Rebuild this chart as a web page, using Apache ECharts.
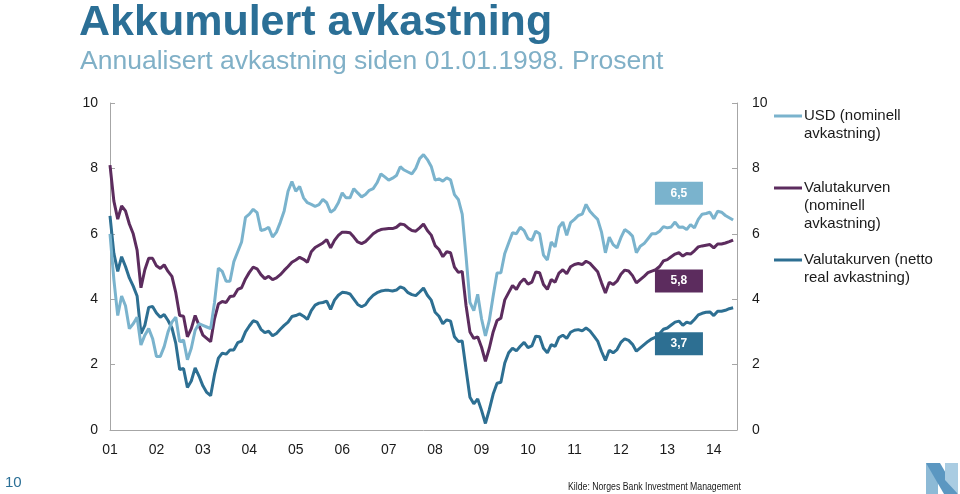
<!DOCTYPE html>
<html>
<head>
<meta charset="utf-8">
<script src="https://cdn.jsdelivr.net/npm/echarts@6/dist/echarts.min.js"></script>
<style>
html,body{margin:0;padding:0;background:#fff;}
#c{width:960px;height:494px;}
</style>
</head>
<body>
<div id="c"></div>
<script>
// ---- data (monthly, Jan 2001 - Jun 2014) ----
const seriesNames = ['USD (nominell\navkastning)', 'Valutakurven\n(nominell\navkastning)', 'Valutakurven (netto\nreal avkastning)'];
const endLabels = ['6,5', '5,8', '3,7'];
const endLabelValues = [7.24, 4.56, 2.64];
const yTicks = [0, 2, 4, 6, 8, 10];

const usd = [6.0,4.6,3.5,4.1,3.8,3.1,3.25,3.45,2.6,2.9,3.1,2.8,
2.25,2.25,2.55,3.0,3.3,3.45,2.7,2.75,2.15,2.5,3.05,3.25,
3.2,3.15,3.1,3.9,4.95,4.85,4.55,4.55,5.15,5.45,5.75,6.5,
6.6,6.75,6.65,6.1,6.13,6.2,5.9,6.05,6.35,6.7,7.3,7.6,
7.3,7.45,7.1,6.95,6.9,6.84,6.89,7.05,6.95,6.66,6.74,6.95,
7.25,7.1,7.1,7.38,7.25,7.13,7.2,7.33,7.38,7.56,7.83,7.74,
7.64,7.7,7.78,8.05,7.95,7.89,7.83,8.0,8.3,8.42,8.27,8.06,
7.64,7.68,7.61,7.71,7.65,7.2,7.05,6.6,5.3,3.9,3.65,4.15,
3.4,2.88,3.35,4.1,4.8,4.81,5.4,5.72,6.03,6.0,6.2,6.1,
5.85,5.8,6.08,6.0,5.35,5.2,5.75,5.6,6.2,6.36,5.95,6.34,
6.44,6.56,6.6,6.9,6.69,6.56,6.44,6.05,5.42,5.9,5.67,5.57,
5.88,6.13,6.05,5.93,5.42,5.62,5.7,5.85,6.0,6.0,6.08,6.22,
6.18,6.21,6.36,6.2,6.21,6.13,6.28,6.18,6.44,6.6,6.62,6.66,
6.46,6.69,6.66,6.56,6.49,6.42];

const nominal = [8.1,7.0,6.45,6.85,6.7,6.3,6.0,5.5,4.35,4.9,5.25,5.25,
5.02,4.94,5.05,4.85,4.7,4.2,3.5,3.48,2.85,3.1,3.5,3.2,
2.9,2.8,2.7,3.4,3.85,3.93,3.9,4.08,4.1,4.3,4.35,4.62,
4.82,4.98,4.93,4.75,4.63,4.7,4.6,4.65,4.75,4.88,5.0,5.13,
5.2,5.28,5.22,5.13,5.45,5.58,5.65,5.72,5.82,5.57,5.8,5.95,
6.05,6.05,6.03,5.9,5.75,5.7,5.76,5.88,6.0,6.08,6.13,6.15,
6.16,6.16,6.2,6.3,6.28,6.18,6.1,6.08,6.18,6.3,6.1,5.96,
5.64,5.52,5.3,5.45,5.42,4.98,4.82,4.85,3.8,3.0,2.8,2.85,
2.53,2.1,2.5,3.0,3.35,3.42,3.98,4.2,4.42,4.3,4.51,4.62,
4.46,4.52,4.83,4.81,4.45,4.3,4.6,4.52,4.8,4.9,4.78,4.99,
5.06,5.09,5.06,5.16,5.1,4.97,4.84,4.5,4.19,4.52,4.45,4.55,
4.76,4.89,4.86,4.72,4.5,4.6,4.7,4.81,4.86,4.9,5.0,5.17,
5.21,5.3,5.38,5.42,5.32,5.4,5.38,5.48,5.6,5.63,5.65,5.67,
5.57,5.69,5.69,5.72,5.76,5.81];

const netReal = [6.55,5.4,4.85,5.3,5.0,4.65,4.4,4.1,2.95,3.2,3.75,3.78,
3.58,3.45,3.53,3.35,3.12,2.65,1.85,1.88,1.3,1.5,1.9,1.65,
1.35,1.15,1.05,1.7,2.2,2.35,2.32,2.45,2.45,2.67,2.72,3.0,
3.18,3.34,3.3,3.08,2.98,3.02,2.88,2.95,3.08,3.2,3.3,3.47,
3.5,3.55,3.48,3.38,3.65,3.82,3.88,3.9,3.94,3.69,3.97,4.12,
4.21,4.2,4.16,4.0,3.84,3.77,3.83,4.0,4.12,4.2,4.25,4.27,
4.27,4.25,4.28,4.38,4.33,4.2,4.14,4.11,4.22,4.34,4.12,3.97,
3.6,3.48,3.25,3.37,3.33,2.85,2.71,2.72,1.85,1.0,0.8,0.95,
0.6,0.2,0.62,1.1,1.43,1.46,2.05,2.36,2.5,2.42,2.56,2.68,
2.52,2.57,2.87,2.85,2.5,2.36,2.61,2.56,2.83,2.9,2.8,2.99,
3.05,3.07,3.03,3.12,3.03,2.88,2.72,2.4,2.13,2.44,2.36,2.46,
2.68,2.79,2.74,2.62,2.41,2.51,2.61,2.71,2.79,2.84,2.95,3.08,
3.12,3.21,3.3,3.33,3.2,3.3,3.26,3.38,3.52,3.57,3.6,3.61,
3.5,3.63,3.63,3.66,3.71,3.74];

// categories: months Jan 2001 .. Jul 2014 (last one empty, axis end)
const categories = [];
for (let y = 2001; y <= 2014; y++) {
  for (let m = 1; m <= 12; m++) {
    if (y === 2014 && m > 7) break;
    categories.push(y + '-' + (m < 10 ? '0' + m : m));
  }
}

const colors = ['#7AB3CD', '#5C2C5E', '#2D6F92'];
const seriesData = [usd, nominal, netReal];
const labelIndex = 146.5;

const chart = echarts.init(document.getElementById('c'));
const textColor = '#1a1a1a';
const axisGray = '#A6A6A6';

const series = seriesData.map((d, k) => ({
  name: seriesNames[k],
  type: 'line',
  data: d,
  showSymbol: false,
  symbol: 'none',
  lineStyle: { width: 3, color: colors[k] },
  itemStyle: { color: colors[k] },
  z: 2 + (2 - k),
  markPoint: {
    symbol: 'rect',
    symbolSize: [48, 23],
    silent: true,
    itemStyle: { color: colors[k] },
    label: { show: true, color: '#fff', fontWeight: 'bold', fontSize: 12, fontFamily: 'Liberation Sans, Arial, sans-serif', formatter: endLabels[k] },
    data: [{ coord: [labelIndex, endLabelValues[k]] }]
  }
}));

// legend drawn as graphic (icon aligned with first text line)
const legendY = [116, 188, 260];
const legendGraphics = [];
seriesNames.forEach((n, k) => {
  legendGraphics.push({
    type: 'line', shape: { x1: 774, y1: legendY[k], x2: 802, y2: legendY[k] },
    style: { stroke: colors[k], lineWidth: 3 }
  });
  legendGraphics.push({
    type: 'text', left: 804, top: legendY[k] - 9,
    style: { text: n, fill: textColor, font: '15px "Liberation Sans", Arial, sans-serif', lineHeight: 18 }
  });
});

chart.setOption({
  animation: false,
  backgroundColor: '#fff',
  grid: { left: 110, right: 223, top: 103, bottom: 64 },
  xAxis: {
    type: 'category',
    data: categories,
    boundaryGap: false,
    axisLine: { lineStyle: { color: axisGray, width: 1 } },
    axisTick: { show: false },
    axisLabel: {
      interval: (idx) => idx % 12 === 0,
      formatter: (v) => v.slice(2, 4),
      color: textColor, fontSize: 14, margin: 13,
      fontFamily: 'Liberation Sans, Arial, sans-serif'
    },
    splitLine: { show: false }
  },
  yAxis: [0, 1].map(j => ({
    type: 'value', min: 0, max: 10, interval: 2,
    position: j === 0 ? 'left' : 'right',
    axisLine: { show: true, lineStyle: { color: axisGray, width: 1 } },
    axisTick: { show: true, inside: true, length: 5, lineStyle: { color: axisGray } },
    axisLabel: { color: textColor, fontSize: 14, margin: j === 0 ? 12 : 15, fontFamily: 'Liberation Sans, Arial, sans-serif',
      formatter: (v) => yTicks.indexOf(v) >= 0 ? String(v) : '' },
    splitLine: { show: false }
  })),
  series: series,
  graphic: [
    { type: 'text', left: 79, top: 2,
      style: { text: 'Akkumulert avkastning', fill: '#2B6F96', font: 'bold 43px "Liberation Sans", Arial, sans-serif' } },
    { type: 'text', left: 80, top: 48,
      style: { text: 'Annualisert avkastning siden 01.01.1998. Prosent', fill: '#80B0C7', font: '26.5px "Liberation Sans", Arial, sans-serif' } },
    { type: 'text', left: 5, top: 475,
      style: { text: '10', fill: '#2B6F96', font: '15px "Liberation Sans Narrow", "Liberation Sans", Arial, sans-serif' } },
    { type: 'text', x: 568, y: 482, scaleX: 0.83,
      style: { text: 'Kilde: Norges Bank Investment Management', fill: '#1a1a1a', font: '10.5px "Liberation Sans", Arial, sans-serif' } },
    // logo
    { type: 'polygon', shape: { points: [[926, 463], [938, 470], [938, 494], [926, 494]] }, style: { fill: '#8DBAD6' } },
    { type: 'polygon', shape: { points: [[926, 463], [940, 463], [958, 494], [944, 494]] }, style: { fill: '#5B97C1' } },
    { type: 'polygon', shape: { points: [[945, 463], [958, 463], [958, 494], [945, 480]] }, style: { fill: '#A9CCE2' } }
  ].concat(legendGraphics)
});
</script>
</body>
</html>
